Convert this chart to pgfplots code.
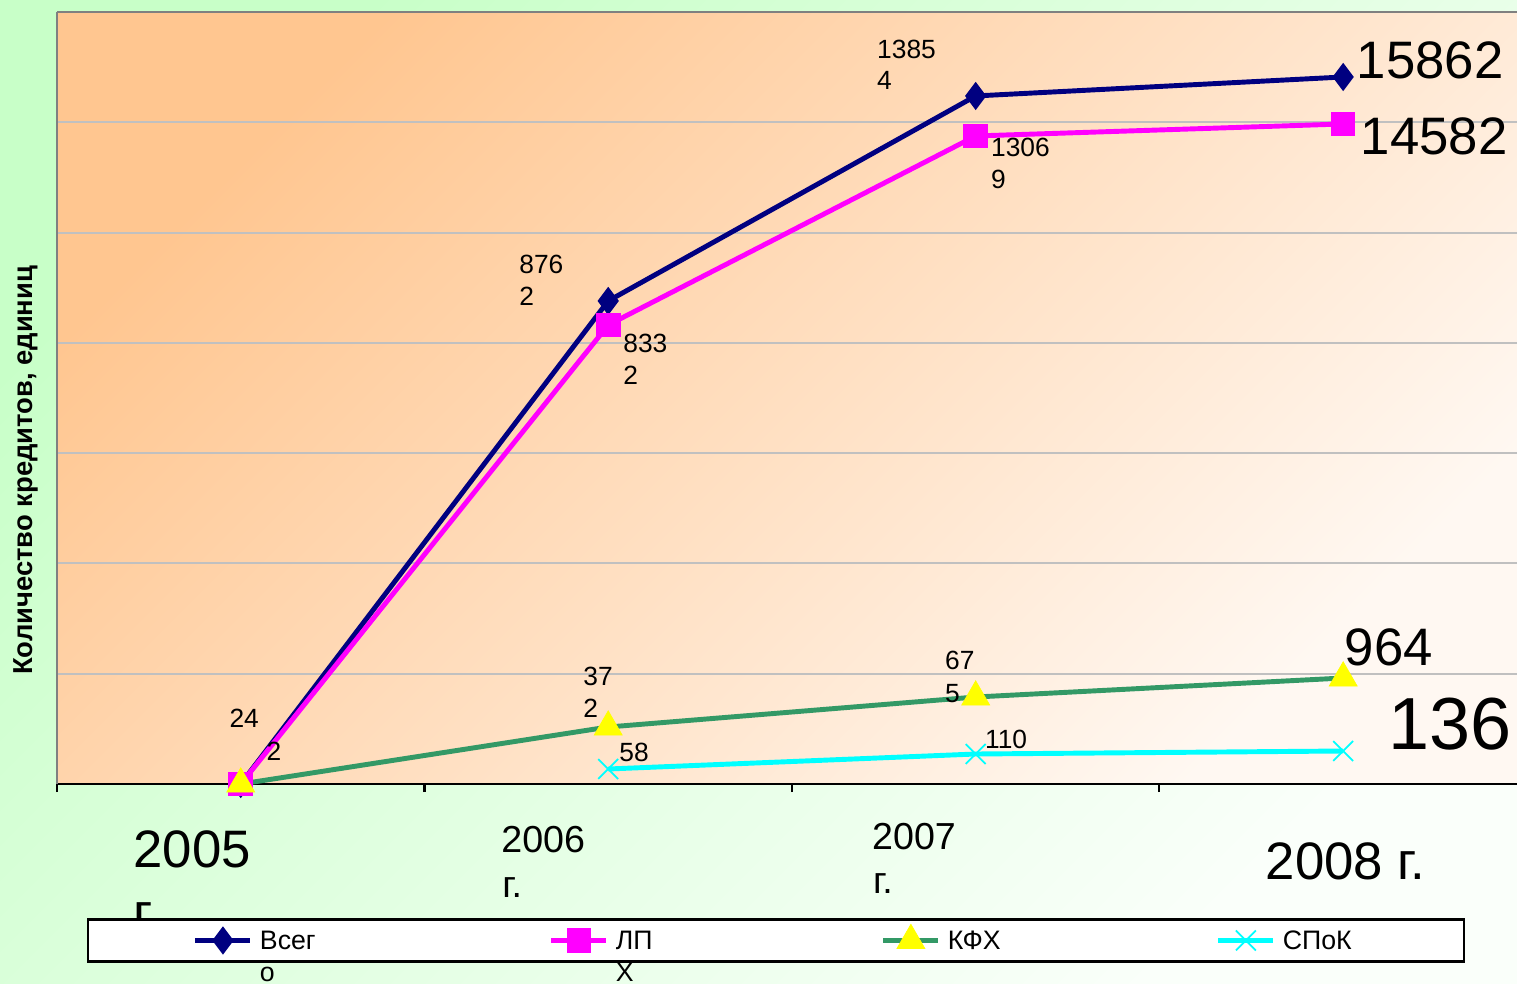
\documentclass[border=0pt]{standalone}
\usepackage{pgfplots}
\pgfplotsset{compat=1.18}
\usepackage{fontspec}
\setmainfont{Liberation Sans}
\definecolor{navyS}{HTML}{000080}
\definecolor{magS}{HTML}{FF00FF}
\definecolor{greenS}{HTML}{339966}
\definecolor{yelS}{HTML}{FFFF00}
\definecolor{cyanS}{HTML}{00FFFF}
\definecolor{gridc}{HTML}{C0C0C0}
\definecolor{bgA}{HTML}{C8FFC8}
\definecolor{bgB}{HTML}{FAFFFA}
\definecolor{plA}{HTML}{FFC690}
\definecolor{plB}{HTML}{FFF8F2}
\begin{document}
\begin{tikzpicture}
\shade[top color=bgA, bottom color=bgB, shading angle=45] (0,0) rectangle (15.17cm,9.83cm);
\useasboundingbox (0,0) rectangle (15.17cm,9.83cm);
\begin{scope}[x=0.01cm,y=0.01cm]
\node[anchor=base west, inner sep=0pt, font=\fontsize{15}{18}\selectfont] at (133,53) {г.};
\end{scope}
\begin{axis}[
  at={(0.57cm,1.99cm)}, anchor=south west,
  scale only axis, width=14.60cm, height=7.72cm,
  xmin=-0.5, xmax=3.473, ymin=0, ymax=17500,
  clip=false,
  axis background/.style={top color=plA, bottom color=plB, shading angle=45},
  axis x line*=bottom, axis y line*=left,
  every outer x axis line/.append style={-},
  every outer y axis line/.append style={-},
  x axis line style={-, black, line width=0.8pt},
  y axis line style={-, gray, line width=0.6pt},
  xtick={-0.5,0.5,1.5,2.5}, xticklabels={},
  ytick={0,2500,...,17500}, yticklabels={},
  ymajorgrids, major grid style={draw=gridc, line width=0.6pt},
  tick align=outside, major tick length=0.08cm,
  x tick style={black, line width=0.6pt},
  y tick style={draw=none},
  legend columns=4,
  legend style={at={(0.4924,-0.2027)}, anchor=center, draw=black, line width=0.6pt,
    fill=white, inner xsep=1.05cm, inner ysep=0pt,
    font=\fontsize{7.6}{9.2}\selectfont,
    /tikz/every odd column/.append style={column sep=0cm}},
  legend image code/.code={\draw[mark repeat=2,mark phase=2,#1] plot coordinates {(0cm,0cm) (0.275cm,0cm) (0.55cm,0cm)};},
]
\addplot[color=navyS, line width=1.4pt, mark=diamond*, mark size=3.7pt,
  mark options={solid, line width=0.4pt, fill=navyS}]
  coordinates {(0,0) (1,10950) (2,15597) (3,16027)};
\addlegendentry{\makebox[2.82cm][l]{\strut\smash{\begin{tabular}[t]{@{}l@{}}Всег\\о\end{tabular}}}}
\addplot[color=magS, line width=1.4pt, mark=square*, mark size=3.3pt,
  mark options={solid, line width=0.4pt, fill=magS}]
  coordinates {(0,0) (1,10405) (2,14690) (3,14962)};
\addlegendentry{\makebox[2.58cm][l]{\strut\smash{\begin{tabular}[t]{@{}l@{}}ЛП\\Х\end{tabular}}}}
\addplot[color=greenS, line width=1.4pt, mark=triangle*, mark size=4.6pt,
  mark options={solid, line width=0.2pt, draw=yelS, fill=yelS}]
  coordinates {(0,0) (1,1292) (2,1972) (3,2403)};
\addlegendentry{\makebox[2.61cm][l]{\strut КФХ}}
\addplot[color=cyanS, line width=1.4pt, mark=x, mark size=4pt,
  mark options={solid, line width=0.5pt}]
  coordinates {(1,340) (2,680) (3,748)};
\addlegendentry{\strut СПоК}
\draw[gray, line width=0.6pt] (rel axis cs:0,1) -- (rel axis cs:1,1);
\end{axis}
\begin{scope}[x=0.01cm,y=0.01cm]
\node[anchor=base, rotate=90, inner sep=0pt, font=\fontsize{7.8}{9}\selectfont\bfseries] at (33,513) {Количество кредитов, единиц};
\begin{scope}[every node/.style={anchor=base west, inner sep=0pt, font=\fontsize{7.5}{9}\selectfont}]
\node at (229,256) {24}; \node at (266,223) {2};
\node at (519,710) {876}; \node at (519,678) {2};
\node at (877,925) {1385}; \node at (877,894) {4};
\node at (623,631) {833}; \node at (623,599) {2};
\node at (991,827) {1306}; \node at (991,795) {9};
\node at (583,298) {37}; \node at (583,266) {2};
\node at (945,314) {67}; \node at (945,281) {5};
\node at (619,222) {58};
\node at (985,235) {110};
\end{scope}
\begin{scope}[every node/.style={anchor=base west, inner sep=0pt, font=\fontsize{15}{18}\selectfont}]
\node at (1357,905) {15862};
\node at (1361,829) {14582};
\node at (1345,318) {964};
\node[font=\fontsize{21}{25}\selectfont] at (1389,234) {136};
\node at (133,116) {2005};
\node at (1266,104) {2008 г.};
\end{scope}
\begin{scope}[every node/.style={anchor=base west, inner sep=0pt, font=\fontsize{10.7}{13}\selectfont}]
\node at (501,131) {2006}; \node at (502,86) {г.};
\node at (872,134) {2007}; \node at (873,90) {г.};
\end{scope}
\end{scope}
\end{tikzpicture}
\end{document}
